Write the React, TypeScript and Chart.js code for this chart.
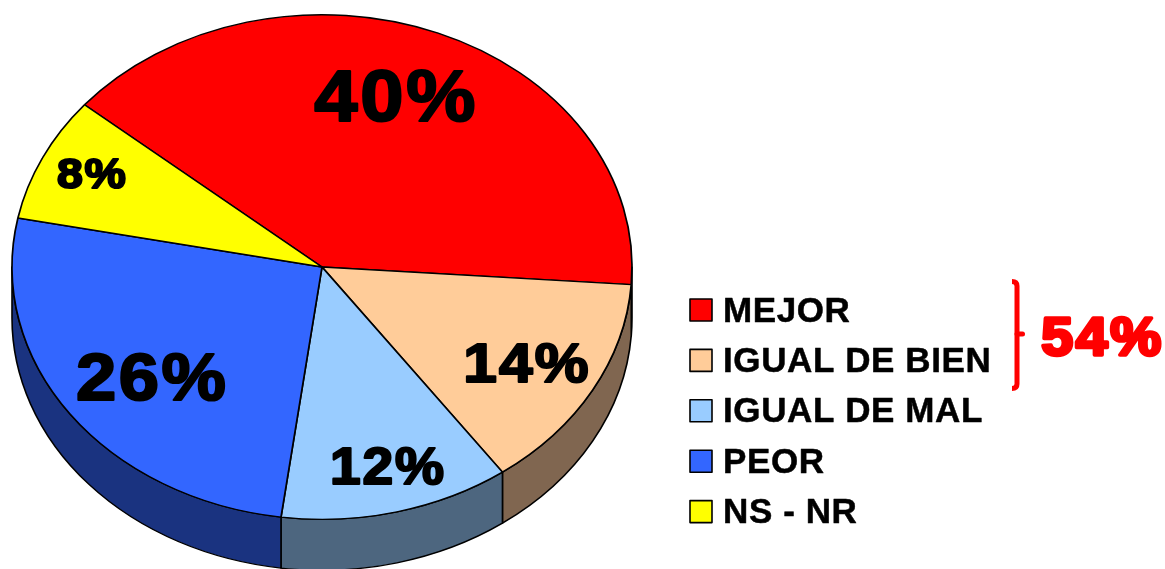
import React, { useEffect, useRef } from "react";
import Chart from "chart.js/auto";

const categories = ["MEJOR", "IGUAL DE BIEN", "IGUAL DE MAL", "PEOR", "NS - NR"];
const percentages = [40, 14, 12, 26, 8];
const faceColors = ["#FF0000", "#FFCC99", "#99CCFF", "#3366FF", "#FFFF00"];
const sideColors = ["#800000", "#806650", "#4D667F", "#1A3380", "#808000"];
const labelSizes = [72, 56, 51, 67, 43];
const labelNudgeX = [4.5, 42.5, 21, -18.5, -62];
const labelNudgeY = [-25.5, 25.5, 56, 26, -25.5];
const bracketTotal = "54%";

const WIDTH = 1165;
const HEIGHT = 569;
const FONT = '"Liberation Sans", Arial, sans-serif';
const RX = 310;
const DEPTH = 51;
const TEXT_STRETCH = 1.08;

function stretchedText(ctx: any, text: string, x: number, y: number, lw: number, spacing: number) {
  ctx.save();
  ctx.translate(x, y);
  ctx.scale(TEXT_STRETCH, 1);
  ctx.letterSpacing = `${spacing}px`;
  ctx.lineWidth = lw;
  ctx.fillText(text, 0, 0);
  ctx.strokeText(text, 0, 0);
  ctx.restore();
}

const pie3d = {
  id: "pie3d",
  beforeDatasetsDraw(chart: any) {
    const ctx = chart.ctx;
    const meta = chart.getDatasetMeta(0);
    const { x: cx, y: cy, outerRadius: r } = meta.data[0];
    ctx.save();
    ctx.translate(cx, cy);
    ctx.scale(RX / r, 1);
    ctx.translate(-cx, -cy);

    ctx.strokeStyle = "#000000";
    ctx.lineWidth = 1.3;
    ctx.lineJoin = "round";
    meta.data.forEach((arc: any, i: number) => {
      for (let k = -1; k <= 1; k++) {
        const lo = Math.max(arc.startAngle + 2 * Math.PI * k, 0);
        const hi = Math.min(arc.endAngle + 2 * Math.PI * k, Math.PI);
        if (hi <= lo) continue;
        ctx.beginPath();
        ctx.arc(cx, cy, r, lo, hi);
        ctx.arc(cx, cy + DEPTH, r, hi, lo, true);
        ctx.closePath();
        ctx.fillStyle = sideColors[i];
        ctx.fill();
        ctx.stroke();
      }
    });
  },
  afterDatasetsDraw(chart: any) {
    const ctx = chart.ctx;
    ctx.restore();

    const meta = chart.getDatasetMeta(0);
    const { x: cx, y: cy, outerRadius: r } = meta.data[0];
    ctx.save();
    ctx.textAlign = "center";
    ctx.textBaseline = "middle";
    ctx.lineJoin = "round";
    ctx.fillStyle = "#000000";
    ctx.strokeStyle = "#000000";
    meta.data.forEach((arc: any, i: number) => {
      const mid = (arc.startAngle + arc.endAngle) / 2;
      const x = cx + 0.6 * RX * Math.cos(mid) + labelNudgeX[i];
      const y = cy + 0.6 * r * Math.sin(mid) + labelNudgeY[i];
      ctx.font = `bold ${labelSizes[i]}px ${FONT}`;
      stretchedText(ctx, `${percentages[i]}%`, x, y, 2.2, labelSizes[i] * 0.035);
    });

    // legend
    ctx.textAlign = "left";
    ctx.font = `bold 35px ${FONT}`;
    (ctx as any).letterSpacing = "0.6px";
    categories.forEach((name, i) => {
      const yc = 310 + 50.4 * i;
      ctx.fillStyle = faceColors[i];
      ctx.fillRect(690, yc - 11, 22, 22);
      ctx.strokeStyle = "#000000";
      ctx.lineWidth = 1.6;
      ctx.strokeRect(690, yc - 11, 22, 22);
      ctx.fillStyle = "#000000";
      ctx.lineWidth = 0.5;
      ctx.fillText(name, 723, yc + 2);
      ctx.strokeText(name, 723, yc + 2);
    });
    (ctx as any).letterSpacing = "0px";

    // bracket
    ctx.strokeStyle = "#FF0000";
    ctx.lineWidth = 5;
    ctx.lineCap = "butt";
    ctx.beginPath();
    ctx.moveTo(1012, 281.5);
    ctx.quadraticCurveTo(1017, 281.5, 1017, 286);
    ctx.lineTo(1017, 384);
    ctx.quadraticCurveTo(1017, 388.5, 1012, 388.5);
    ctx.stroke();
    ctx.lineCap = "round";
    ctx.beginPath();
    ctx.moveTo(1017, 334);
    ctx.lineTo(1022.5, 334);
    ctx.stroke();

    ctx.textAlign = "center";
    ctx.fillStyle = "#FF0000";
    ctx.strokeStyle = "#FF0000";
    ctx.font = `bold 53px ${FONT}`;
    stretchedText(ctx, bracketTotal, 1102.5, 340, 3.5, 2.5);
    ctx.restore();
  },
};

export default function App() {
  const ref = useRef<HTMLCanvasElement>(null);
  useEffect(() => {
    const chart = new Chart(ref.current as HTMLCanvasElement, {
      type: "pie",
      data: {
        labels: categories,
        datasets: [
          {
            data: percentages,
            backgroundColor: faceColors,
            borderColor: "#000000",
            borderWidth: 1.4,
          },
        ],
      },
      options: {
        responsive: false,
        animation: false,
        rotation: 310,
        layout: { padding: { left: 0, right: WIDTH - 644, top: 14, bottom: HEIGHT - 520 } },
        plugins: { legend: { display: false }, tooltip: { enabled: false } },
      },
      plugins: [pie3d],
    } as any);
    return () => chart.destroy();
  }, []);
  return (
    <canvas
      ref={ref}
      width={WIDTH}
      height={HEIGHT}
      style={{ position: "fixed", left: 0, top: 0, width: WIDTH, height: HEIGHT, display: "block" }}
    />
  );
}
